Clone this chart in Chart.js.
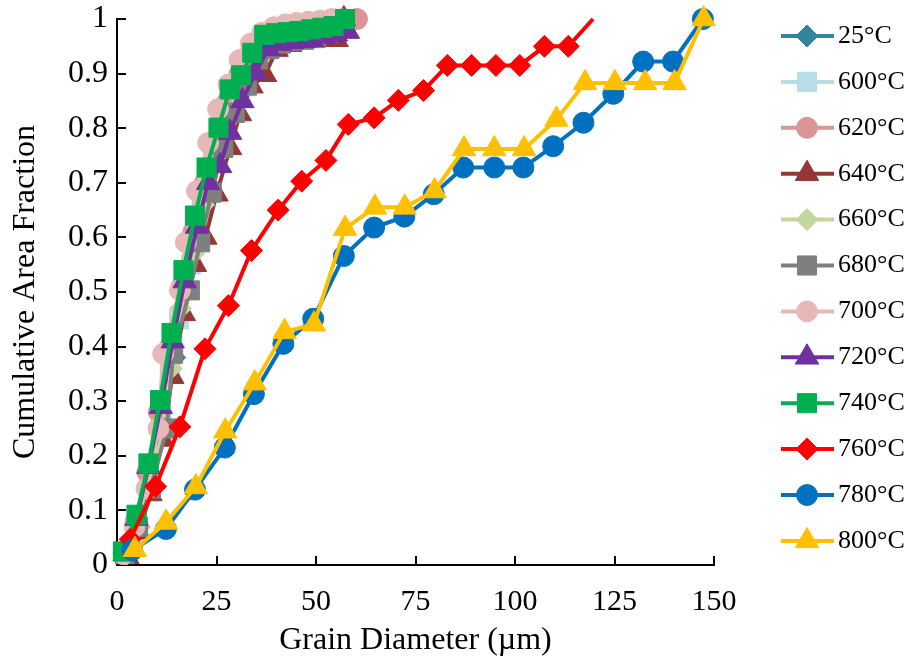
<!DOCTYPE html>
<html>
<head>
<meta charset="utf-8">
<script src="https://cdn.jsdelivr.net/npm/chart.js@4.4.0/dist/chart.umd.min.js"></script>
<style>
  body { margin: 0; background: #fff; }
</style>
</head>
<body>
<canvas id="granoChart" width="912" height="668"></canvas>
<script>
const series = ['25°C', '600°C', '620°C', '640°C', '660°C', '680°C', '700°C', '720°C', '740°C', '760°C', '780°C', '800°C'];
const colores = ['#31859C', '#B7DEE8', '#D99694', '#953735', '#C3D69B', '#7F7F7F', '#E6B9B8', '#7030A0', '#00B050', '#FF0000', '#0070C0', '#FFC000'];
const marcadores = ['rectRot', 'rect', 'circle', 'triangle', 'rectRot', 'rect', 'circle', 'triangle', 'rect', 'rectRot', 'circle', 'triangle'];

const xTicks = [0, 25, 50, 75, 100, 125, 150];
const yTicks = [0, 0.1, 0.2, 0.3, 0.4, 0.5, 0.6, 0.7, 0.8, 0.9, 1];

// diámetro de grano (µm) y fracción de área acumulada
const x25 = [2.5, 5.5, 8.5, 11.5, 14.5, 17.5, 20.5, 23.5, 26.5, 29.5, 32.5, 35.5, 38.5, 41.5, 44.5, 47.5, 50.5, 53.5, 56.5];
const y25 = [0.02, 0.07, 0.15, 0.26, 0.38, 0.50, 0.60, 0.69, 0.77, 0.84, 0.89, 0.93, 0.955, 0.965, 0.97, 0.975, 0.98, 0.99, 1.0];

const x600 = [2.0, 5.0, 8.2, 11.2, 13.4, 15.6, 18.6, 21.3, 24.1, 27.0, 30.0, 32.9, 35.8, 38.7, 41.6, 44.5, 47.4, 50.3, 53.2, 56.1];
const y600 = [0.02, 0.08, 0.16, 0.26, 0.35, 0.45, 0.55, 0.65, 0.74, 0.81, 0.86, 0.91, 0.94, 0.955, 0.965, 0.97, 0.975, 0.98, 0.99, 1.0];

const x620 = [1.8, 4.7, 7.6, 10.5, 13.4, 16.3, 19.2, 22.1, 25.0, 27.9, 30.8, 33.7, 36.6, 39.5, 42.4, 45.3, 48.2, 51.1, 54.0, 57.0, 60.3];
const y620 = [0.02, 0.08, 0.17, 0.28, 0.40, 0.51, 0.61, 0.70, 0.78, 0.85, 0.90, 0.94, 0.965, 0.98, 0.985, 0.988, 0.99, 0.992, 0.994, 0.996, 1.0];

const x640 = [2.6, 5.5, 8.4, 11.4, 13.9, 16.8, 19.6, 22.2, 25.0, 28.4, 30.9, 33.8, 37.2, 40.1, 43.5, 46.4, 49.2, 52.2, 55.2, 57.0];
const y640 = [0.015, 0.06, 0.13, 0.23, 0.345, 0.46, 0.55, 0.60, 0.679, 0.764, 0.826, 0.877, 0.898, 0.944, 0.953, 0.958, 0.962, 0.962, 0.962, 1.0];

const x660 = [2.4, 5.4, 8.4, 11.6, 13.6, 16.0, 19.2, 21.8, 24.6, 27.4, 30.3, 33.2, 36.0, 39.0, 41.9, 44.8, 47.7, 50.6, 53.5, 56.4];
const y660 = [0.02, 0.07, 0.15, 0.25, 0.36, 0.47, 0.57, 0.66, 0.745, 0.81, 0.86, 0.91, 0.94, 0.955, 0.962, 0.966, 0.97, 0.975, 0.985, 1.0];

const x680 = [2.0, 5.3, 8.5, 12.5, 14.1, 18.3, 20.9, 23.8, 26.7, 29.6, 32.7, 35.4, 38.3, 41.2, 44.1, 47.0, 49.9, 52.8, 55.7];
const y680 = [0.02, 0.07, 0.14, 0.25, 0.387, 0.503, 0.591, 0.682, 0.764, 0.828, 0.878, 0.926, 0.945, 0.955, 0.96, 0.962, 0.965, 0.975, 1.0];

const x700 = [1.6, 4.4, 7.4, 10.4, 11.6, 15.8, 17.3, 20.1, 22.9, 25.4, 28.0, 30.8, 33.6, 36.5, 39.4, 42.3, 45.2, 48.1, 51.0, 54.0];
const y700 = [0.02, 0.07, 0.14, 0.25, 0.387, 0.503, 0.591, 0.685, 0.773, 0.835, 0.88, 0.925, 0.955, 0.975, 0.985, 0.99, 0.993, 0.995, 0.997, 1.0];

const x720 = [1.9, 4.9, 7.9, 11.0, 14.0, 17.0, 20.1, 22.9, 25.9, 28.4, 31.5, 34.7, 38.0, 41.0, 44.0, 47.0, 49.0, 52.0, 55.0, 58.0];
const y720 = [0.02, 0.085, 0.18, 0.29, 0.41, 0.52, 0.62, 0.70, 0.731, 0.792, 0.85, 0.901, 0.945, 0.955, 0.958, 0.96, 0.962, 0.968, 0.972, 0.977];

const x740 = [1.5, 4.9, 7.9, 10.8, 13.7, 16.7, 19.6, 22.5, 25.5, 28.3, 31.2, 34.0, 37.0, 40.0, 42.9, 45.8, 48.7, 51.6, 54.4, 57.3];
const y740 = [0.025, 0.092, 0.186, 0.302, 0.425, 0.540, 0.640, 0.728, 0.801, 0.871, 0.897, 0.938, 0.971, 0.974, 0.976, 0.978, 0.981, 0.984, 0.987, 1.0];

const x760 = [3.3, 9.7, 15.8, 22.1, 28.0, 33.8, 40.5, 46.4, 52.5, 58.1, 64.6, 70.7, 77.0, 83.0, 89.1, 95.2, 101.2, 107.4, 113.4, 119.6];
const y760 = [0.047, 0.144, 0.253, 0.396, 0.475, 0.576, 0.65, 0.703, 0.741, 0.807, 0.819, 0.851, 0.869, 0.915, 0.915, 0.915, 0.915, 0.95, 0.95, 1.0];

const x780 = [3.8, 12.3, 19.6, 27.1, 34.4, 41.8, 49.3, 57.0, 64.6, 72.2, 79.6, 87.0, 94.8, 102.1, 109.6, 117.2, 124.7, 132.2, 139.7, 147.2];
const y780 = [0.027, 0.066, 0.138, 0.215, 0.313, 0.405, 0.451, 0.566, 0.618, 0.638, 0.679, 0.728, 0.728, 0.728, 0.767, 0.81, 0.863, 0.922, 0.922, 1.0];

const x800 = [4.5, 12.3, 19.8, 27.2, 34.6, 42.1, 49.5, 57.3, 64.8, 72.3, 79.8, 87.2, 94.8, 102.3, 110.4, 117.6, 125.1, 132.7, 140.1, 147.4];
const y800 = [0.028, 0.078, 0.143, 0.245, 0.333, 0.427, 0.441, 0.616, 0.655, 0.655, 0.685, 0.762, 0.762, 0.762, 0.816, 0.883, 0.883, 0.883, 0.883, 1.0];

const xs = [x25, x600, x620, x640, x660, x680, x700, x720, x740, x760, x780, x800];
const ys = [y25, y600, y620, y640, y660, y680, y700, y720, y740, y760, y780, y800];

// tamaño de cada marcador según su forma
const radio = { circle: 10.5, rect: 13.5, triangle: 13.5, rectRot: 11 };

const datasets = series.map((nombre, i) => {
    const puntos = xs[i].map((x, j) => ({ x: x, y: ys[i][j] }));
    let radios = radio[marcadores[i]];
    if (nombre === '760°C') {
        // el último punto cae justo en 1 y no muestra marcador
        radios = puntos.map((p, j) => j === puntos.length - 1 ? 0 : radio[marcadores[i]]);
    }
    return {
        label: nombre,
        data: puntos,
        showLine: true,
        borderColor: colores[i],
        backgroundColor: colores[i],
        borderWidth: 4,
        pointStyle: marcadores[i],
        pointRadius: radios,
        pointHoverRadius: radios,
        pointBorderWidth: 1,
        pointBorderColor: colores[i],
        pointBackgroundColor: colores[i],
        tension: 0,
        clip: false,
        order: series.length - i,
    };
});

// Leyenda a la derecha: línea + marcador + texto
const leyenda = {
    id: 'leyenda',
    afterDraw(chart) {
        const ctx = chart.ctx;
        ctx.save();
        chart.data.datasets.forEach((ds, i) => {
            const y = 36 + i * 45.9;
            ctx.strokeStyle = ds.borderColor;
            ctx.lineWidth = 4;
            ctx.beginPath();
            ctx.moveTo(781, y);
            ctx.lineTo(834, y);
            ctx.stroke();
            ctx.fillStyle = ds.backgroundColor;
            ctx.lineWidth = 1;
            Chart.helpers.drawPoint(ctx, { pointStyle: ds.pointStyle, radius: radio[ds.pointStyle], borderWidth: 1, rotation: 0 }, 807, y);
            ctx.fillStyle = '#000';
            ctx.font = '26px "Liberation Serif"';
            ctx.textAlign = 'left';
            ctx.textBaseline = 'middle';
            ctx.fillText(ds.label, 838, y);
        });
        ctx.restore();
    }
};

const ejes = {
    color: '#000',
    lineWidth: 2,
    drawOnChartArea: false,
    tickLength: -9,
};

// Configuración del gráfico
const config = {
    type: 'scatter',
    data: { datasets: datasets },
    options: {
        responsive: false,
        animation: false,
        layout: { padding: { top: 19, right: 198, left: 0, bottom: 0 } },
        plugins: {
            legend: { display: false },
            tooltip: { enabled: false },
        },
        scales: {
            x: {
                type: 'linear',
                min: 0,
                max: 150,
                afterBuildTicks: (axis) => { axis.ticks = xTicks.map(v => ({ value: v })); },
                afterFit: (axis) => { axis.height = 103; },
                grid: ejes,
                border: { color: '#000', width: 2 },
                ticks: {
                    color: '#000',
                    padding: 28,
                    maxRotation: 0,
                    autoSkip: false,
                    font: { family: 'Liberation Serif', size: 30 },
                },
                title: {
                    display: true,
                    text: 'Grain Diameter (µm)',
                    color: '#000',
                    font: { family: 'Liberation Serif', size: 32 },
                    padding: { top: 0, bottom: 8 },
                },
            },
            y: {
                type: 'linear',
                min: 0,
                max: 1,
                afterBuildTicks: (axis) => { axis.ticks = yTicks.map(v => ({ value: v })); },
                afterFit: (axis) => {
                    axis.width = 117;
                    axis.paddingTop = 0;
                    axis.paddingBottom = 0;
                },
                grid: ejes,
                border: { color: '#000', width: 2 },
                ticks: {
                    color: '#000',
                    padding: 18,
                    autoSkip: false,
                    font: { family: 'Liberation Serif', size: 32 },
                    callback: (v) => String(v),
                },
                title: {
                    display: true,
                    text: 'Cumulative Area Fraction',
                    color: '#000',
                    font: { family: 'Liberation Serif', size: 32 },
                    padding: { top: 6, bottom: 0 },
                },
            },
        },
    },
    plugins: [leyenda],
};

// Crear el gráfico
new Chart(document.getElementById('granoChart'), config);
</script>
</body>
</html>
